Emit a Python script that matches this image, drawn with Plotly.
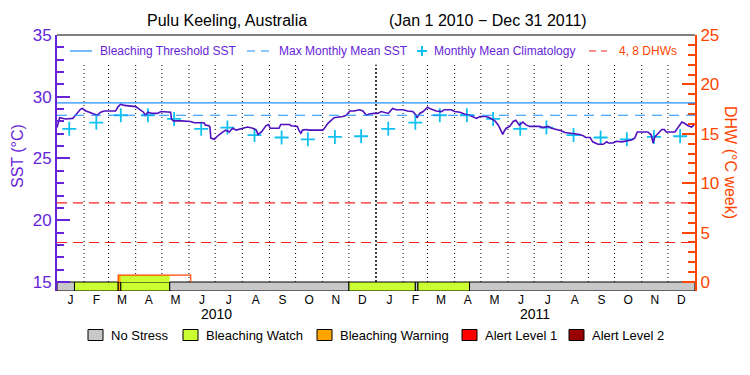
import plotly.graph_objects as go
import pandas as pd

# ---------------- data ----------------
title_site = "Pulu Keeling, Australia"
title_period = "(Jan 1 2010 \u2212 Dec 31 2011)"
period_start = "2010-01-01"
period_end = "2012-01-01"
years = [2010, 2011]
month_letters = ["J", "F", "M", "A", "M", "J", "J", "A", "S", "O", "N", "D"]

# monthly mean climatology (deg C), Jan..Dec
clim_monthly = [27.4, 27.9, 28.5, 28.5, 28.2, 27.4, 27.5, 26.9, 26.7, 26.55, 26.75, 26.8]

# SST, days since Jan 1 2010
sst_day = [0, 3, 10, 18, 20, 23, 27, 29, 33, 37, 42, 46, 50, 54, 67, 70, 73, 77, 90, 94,
           99, 101, 104, 109, 115, 119, 125, 130, 131, 133, 142, 153, 157, 168, 170, 174, 175, 176, 180, 182,
           185, 190, 193, 197, 201, 205, 210, 218, 224, 228, 230, 234, 239, 242, 244, 254, 256, 266, 268, 275,
           277, 279, 281, 285, 288, 304, 306, 310, 314, 317, 327, 331, 335, 340, 346, 350, 354, 357, 363, 367,
           371, 379, 384, 388, 396, 401, 407, 411, 412, 415, 419, 424, 428, 434, 440, 443, 451, 455, 461, 466,
           472, 476, 480, 484, 491, 495, 501, 505, 507, 510, 512, 514, 518, 522, 525, 528, 529, 533, 537, 541,
           552, 556, 562, 566, 571, 577, 581, 587, 592, 598, 602, 605, 610, 613, 619, 625, 629, 631, 636, 640,
           646, 652, 657, 661, 664, 676, 680, 682, 684, 688, 692, 695, 697, 707, 711, 715, 718, 722, 726, 729]
sst_val = [27.5, 28.3, 28.2, 28.25, 28.4, 28.65, 29.0, 29.05, 28.85, 28.75, 28.6, 28.5, 28.75, 28.85, 28.85, 29.2, 29.4, 29.3, 29.2, 29.0,
           28.75, 28.5, 28.75, 28.65, 28.65, 28.8, 28.8, 28.75, 28.2, 28.05, 28.05, 28.0, 27.9, 27.9, 27.7, 27.65, 27.55, 26.65, 26.55, 26.7,
           26.9, 27.15, 27.3, 27.15, 27.45, 27.3, 27.4, 27.55, 27.45, 27.3, 26.95, 27.15, 27.65, 27.75, 27.45, 27.45, 27.75, 27.75, 27.65, 27.6,
           27.25, 27.05, 27.3, 27.35, 27.3, 27.3, 27.45, 27.85, 28.1, 28.3, 28.4, 28.5, 28.85, 28.85, 28.95, 28.85, 28.5, 28.6, 28.65, 28.65,
           28.8, 28.65, 29.05, 28.95, 28.95, 28.85, 28.8, 28.5, 28.3, 28.65, 28.8, 29.15, 29.0, 28.85, 28.8, 28.95, 28.95, 28.8, 28.75, 28.6,
           28.5, 28.35, 28.25, 28.4, 28.4, 28.3, 28.05, 27.7, 27.35, 26.95, 27.25, 27.45, 27.6, 28.0, 28.1, 27.85, 27.7, 27.95, 27.7, 27.6,
           27.6, 27.5, 27.6, 27.45, 27.35, 27.25, 27.1, 27.05, 27.0, 26.95, 26.85, 26.7, 26.7, 26.35, 26.15, 26.15, 26.35, 26.25, 26.25, 26.4,
           26.35, 26.45, 26.5, 26.65, 27.15, 27.15, 26.9, 26.25, 26.75, 27.05, 27.35, 27.35, 27.15, 27.15, 27.6, 27.95, 27.85, 27.65, 27.55, 27.7]

# Degree heating weeks (step values, change dates)
dhw_dates = ["2010-01-01", "2010-03-12", "2010-06-03", "2012-01-01"]
dhw_vals = [0.0, 0.7, 0.0, 0.0]
dhw_ref_levels = [4, 8]

# Bleaching stress level periods
stress_start = ["2010-01-01", "2010-01-21", "2010-03-12", "2010-03-15", "2010-05-10",
                "2010-12-01", "2011-02-15", "2011-02-18", "2011-04-18"]
stress_end = ["2010-01-21", "2010-03-12", "2010-03-15", "2010-05-10", "2010-12-01",
              "2011-02-15", "2011-02-18", "2011-04-18", "2012-01-01"]
stress_level = [0, 1, 2, 1, 0, 1, 0, 1, 0]
stress_names = ["No Stress", "Bleaching Watch", "Bleaching Warning", "Alert Level 1", "Alert Level 2"]

# ---------------- style ----------------
FONT = "Liberation Sans"
PURPLE = "#6624D8"
LINE_PURPLE = "#5010C0"
BLUE = "#1E90FF"
CYAN = "#10C0F0"
RED = "#FF2020"
ORANGERED = "#FF4500"
stress_colors = ["#C8C8C8", "#CCFF33", "#FFA500", "#FF0000", "#990000"]

L, R, T, B = 57, 55, 35, 84
W, H = 750, 375
PW, PH = W - L - R, H - T - B


def px_x(px):
    return (px - L) / PW


def px_y(py):
    return (H - B - py) / PH


mmm = max(clim_monthly)
threshold = mmm + 1.0
t0 = pd.Timestamp(period_start)
sst_dates = [t0 + pd.Timedelta(days=d) for d in sst_day]

month_starts = pd.date_range(period_start, period_end, freq="MS")
mids = [a + (b - a) / 2 for a, b in zip(month_starts[:-1], month_starts[1:])]
clim_dates = [pd.Timestamp(f"{y}-{m:02d}-15") for y in years for m in range(1, 13)]
clim_vals = clim_monthly * len(years)

fig = go.Figure()

# stress bars (base at bottom of axis, top at DHW 0)
y2_lo = -0.91
for s, e, lev in zip(stress_start, stress_end, stress_level):
    s, e = pd.Timestamp(s), pd.Timestamp(e)
    mid = s + (e - s) / 2
    width_ms = (e - s).total_seconds() * 1000
    fig.add_trace(go.Bar(x=[mid], y=[-y2_lo], base=[y2_lo], width=[width_ms],
                         marker=dict(color=stress_colors[lev], line=dict(color="black", width=1)),
                         yaxis="y2", showlegend=False, hoverinfo="skip"))


def dhw_at(t):
    v = dhw_vals[0]
    for d, val in zip(dhw_dates, dhw_vals):
        if pd.Timestamp(d) <= t:
            v = val
    return v


# stress-coloured fill under DHW
for s, e, lev in zip(stress_start, stress_end, stress_level):
    s, e = pd.Timestamp(s), pd.Timestamp(e)
    h = dhw_at(s)
    if lev > 0 and h > 0:
        mid = s + (e - s) / 2
        width_ms = (e - s).total_seconds() * 1000
        fig.add_trace(go.Bar(x=[mid], y=[h], base=[0], width=[width_ms],
                             marker=dict(color=stress_colors[lev], line=dict(width=0)),
                             yaxis="y2", showlegend=False, hoverinfo="skip"))

# DHW outline (only positive runs)
for i in range(len(dhw_dates) - 1):
    if dhw_vals[i] > 0:
        a, b = dhw_dates[i], dhw_dates[i + 1]
        fig.add_trace(go.Scatter(x=[a, a, b, b], y=[0, dhw_vals[i], dhw_vals[i], 0],
                                 mode="lines", line=dict(color=ORANGERED, width=1.2),
                                 yaxis="y2", showlegend=False, hoverinfo="skip"))

# climatology
fig.add_trace(go.Scatter(x=clim_dates, y=clim_vals, mode="markers",
                         marker=dict(symbol="cross-thin", size=10, line=dict(color=CYAN, width=1.8)),
                         showlegend=False))
# SST
fig.add_trace(go.Scatter(x=sst_dates, y=sst_val, mode="lines",
                         line=dict(color=LINE_PURPLE, width=1.6), showlegend=False))

shapes = []
# month dotted lines
for ms in month_starts[1:-1]:
    is_year = ms.month == 1
    shapes.append(dict(type="line", xref="x", yref="y", x0=ms, x1=ms, y0=15, y1=32.6,
                       line=dict(color="black", width=1.5 if is_year else 1,
                                 dash="2px,2px" if is_year else "1px,3px"), layer="below"))
# threshold / MMM
shapes.append(dict(type="line", xref="paper", yref="y", x0=0, x1=1, y0=threshold, y1=threshold,
                   line=dict(color=BLUE, width=1.2)))
shapes.append(dict(type="line", xref="paper", yref="y", x0=0, x1=1, y0=mmm, y1=mmm,
                   line=dict(color=BLUE, width=1.2, dash="10px,7px")))
# DHW reference lines
for lv in dhw_ref_levels:
    shapes.append(dict(type="line", xref="paper", yref="y2", x0=0, x1=1, y0=lv, y1=lv,
                       line=dict(color=RED, width=1.2, dash="10px,6px")))
# top frame
shapes.append(dict(type="line", xref="paper", yref="paper", x0=0, x1=1, y0=1, y1=1,
                   line=dict(color="black", width=1.2)))

annotations = []


def ann(text, px, py, size, color, xanchor="center", angle=0, xref="paper", xval=None):
    annotations.append(dict(text=text, x=px_x(px) if xval is None else xval, y=px_y(py),
                            xref=xref, yref="paper", xanchor=xanchor, yanchor="middle",
                            showarrow=False, textangle=angle,
                            font=dict(size=size, color=color, family=FONT)))


# title
ann(title_site, 227, 20, 16, "black")
ann(title_period, 488, 20, 16, "black")
# axis titles
ann("SST (\u00b0C)", 17, 156, 16, PURPLE, angle=-90)
ann("DHW (\u00b0C week)", 731, 162, 16, ORANGERED, angle=90)
# year labels
for y in years:
    ann(str(y), 0, 314, 14, "black", xref="x", xval=pd.Timestamp(f"{y}-07-02"))

# top legend
ly = 51
shapes.append(dict(type="line", xref="paper", yref="paper", x0=px_x(70), x1=px_x(92), y0=px_y(ly), y1=px_y(ly),
                   line=dict(color=BLUE, width=1.2)))
shapes.append(dict(type="line", xref="paper", yref="paper", x0=px_x(247), x1=px_x(270), y0=px_y(ly), y1=px_y(ly),
                   line=dict(color=BLUE, width=1.2, dash="8px,6px")))
shapes.append(dict(type="line", xref="paper", yref="paper", x0=px_x(417), x1=px_x(427), y0=px_y(ly), y1=px_y(ly),
                   line=dict(color=CYAN, width=2)))
shapes.append(dict(type="line", xref="paper", yref="paper", x0=px_x(422), x1=px_x(422), y0=px_y(ly - 5), y1=px_y(ly + 5),
                   line=dict(color=CYAN, width=2)))
shapes.append(dict(type="line", xref="paper", yref="paper", x0=px_x(589), x1=px_x(607), y0=px_y(ly), y1=px_y(ly),
                   line=dict(color=RED, width=1.2, dash="7px,5px")))
for txt, xx, col in [("Bleaching Threshold SST", 98, PURPLE), ("Max Monthly Mean SST", 277, PURPLE),
                     ("Monthly Mean Climatology", 432, PURPLE), ("4, 8 DHWs", 617, ORANGERED)]:
    ann(txt, xx, ly, 12, col, xanchor="left")

# bottom legend
by = 335
for name, col, bx in zip(stress_names, stress_colors, [88, 183, 317, 462, 569]):
    shapes.append(dict(type="rect", xref="paper", yref="paper", x0=px_x(bx), x1=px_x(bx + 15),
                       y0=px_y(by + 5.5), y1=px_y(by - 5.5), fillcolor=col, line=dict(color="black", width=1)))
    ann(name, bx + 21, by, 13, "black", xanchor="left")

fig.update_layout(
    width=W, height=H, margin=dict(l=L, r=R, t=T, b=B, pad=0, autoexpand=False),
    plot_bgcolor="white", paper_bgcolor="white", showlegend=False, barmode="overlay",
    font=dict(family=FONT), shapes=shapes, annotations=annotations,
    xaxis=dict(type="date", range=[period_start, period_end], tickvals=mids, automargin=False,
               ticktext=month_letters * len(years), ticks="", ticklen=0, showgrid=False, zeroline=False,
               showline=False, tickfont=dict(size=12, color="black", family=FONT)),
    yaxis=dict(range=[14.27, 35], tickvals=[15, 20, 25, 30, 35], ticks="inside", ticklen=13, tickwidth=2,
               automargin=False, tickcolor=PURPLE,
               minor=dict(dtick=1, tick0=15, ticks="inside", ticklen=7, tickwidth=2, tickcolor=PURPLE),
               showline=True, linecolor=PURPLE, linewidth=2, showgrid=False, zeroline=False,
               tickfont=dict(size=17, color=PURPLE, family=FONT)),
    yaxis2=dict(range=[-0.91, 25], overlaying="y", side="right", tickvals=[0, 5, 10, 15, 20, 25],
                automargin=False, ticks="inside", ticklen=13, tickwidth=2, tickcolor=ORANGERED,
                minor=dict(dtick=1, tick0=0, ticks="inside", ticklen=7, tickwidth=2, tickcolor=ORANGERED),
                showline=True, linecolor=ORANGERED, linewidth=2, showgrid=False, zeroline=False,
                tickfont=dict(size=17, color=ORANGERED, family=FONT)),
)

fig.write_html("out.html", config={"displayModeBar": False},
               post_script="document.body.style.margin='0';document.body.style.padding='0';")
